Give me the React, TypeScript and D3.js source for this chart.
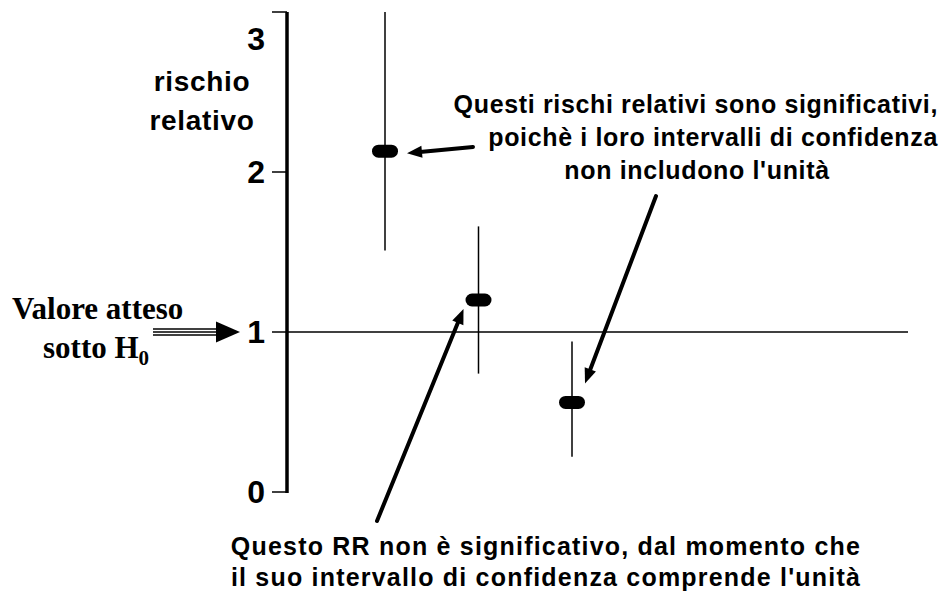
import React from 'react';
import * as d3 from 'd3';

// ---- data ----
const categories = ['A', 'B', 'C'];
const rr = [2.13, 1.2, 0.56];
const ciLow = [1.51, 0.74, 0.22];
const ciHigh = [3.0, 1.66, 0.94];
const nullValue = 1;
const yTicks = [0, 1, 2, 3];
const yLabelLines = ['rischio', 'relativo'];
const noteSigLines = [
  'Questi rischi relativi sono significativi,',
  'poichè i loro intervalli di confidenza',
  "non includono l'unità",
];
const noteNonSigLines = [
  'Questo RR non è significativo, dal momento che',
  "il suo intervallo di confidenza comprende l'unità",
];
const h0Line1 = 'Valore atteso';
const h0Line2 = 'sotto H';
const h0Sub = '0';

// ---- layout ----
const W = 948;
const H = 591;
const axisX = 287;
const refEnd = 908;
const SANS = "'Liberation Sans', Arial, Helvetica, sans-serif";
const SERIF = "'Liberation Serif', 'Times New Roman', serif";

function Arrow({ x1, y1, x2, y2, w = 4, headL = 15, headW = 12 }: any) {
  const dx = x2 - x1;
  const dy = y2 - y1;
  const len = Math.sqrt(dx * dx + dy * dy);
  const ux = dx / len;
  const uy = dy / len;
  const bx = x2 - ux * headL;
  const by = y2 - uy * headL;
  const px = -uy;
  const py = ux;
  const pts = [
    [x2, y2],
    [bx + px * headW / 2, by + py * headW / 2],
    [bx - px * headW / 2, by - py * headW / 2],
  ];
  return (
    <g>
      <line x1={x1} y1={y1} x2={bx + ux * 2} y2={by + uy * 2} stroke="#000" strokeWidth={w} strokeLinecap="round" />
      <polygon points={pts.map((p) => p.join(',')).join(' ')} fill="#000" />
    </g>
  );
}

export default function App() {
  const y = d3.scaleLinear().domain([0, 3]).range([492, 12]);
  const x = d3.scalePoint<string>().domain(categories).range([385, 572]);

  const y1 = y(nullValue);
  const pts = categories.map((c, i) => ({ cx: x(c) as number, cy: y(rr[i]), lo: y(ciLow[i]), hi: y(ciHigh[i]) }));

  return (
    <svg width={W} height={H} style={{ position: 'absolute', left: 0, top: 0, background: '#fff' }}>
      <rect width={W} height={H} fill="#fff" />
      {/* reference line at null value */}
      <line x1={axisX} x2={refEnd} y1={y1} y2={y1} stroke="#000" strokeWidth={1.5} />
      {/* axis */}
      <line x1={axisX} x2={axisX} y1={y(3)} y2={y(0) + 1} stroke="#000" strokeWidth={3.5} />
      {yTicks.map((t) => (
        <g key={t}>
          <line x1={axisX - 15} x2={axisX} y1={y(t)} y2={y(t)} stroke="#000" strokeWidth={1.5} />
          <text
            x={265}
            y={Math.max(y(t), y(3) + 27)}
            textAnchor="end"
            dominantBaseline="central"
            fontFamily={SANS}
            fontWeight="bold"
            fontSize={32}
          >
            {t}
          </text>
        </g>
      ))}
      {/* y label */}
      {yLabelLines.map((l, i) => (
        <text key={l} x={202} y={91 + i * 39} textAnchor="middle" fontFamily={SANS} fontWeight="bold" fontSize={28} letterSpacing={0.7}>
          {l}
        </text>
      ))}
      {/* CI and markers */}
      {pts.map((p, i) => (
        <g key={i}>
          <line x1={p.cx} x2={p.cx} y1={p.hi} y2={p.lo} stroke="#000" strokeWidth={1.5} />
          <rect x={p.cx - 13} y={p.cy - 6.5} width={26} height={13} rx={6.5} fill="#000" />
        </g>
      ))}
      {/* H0 label */}
      <text x={12} y={319} fontFamily={SERIF} fontWeight="bold" fontSize={31}>
        {h0Line1}
      </text>
      <text x={43} y={358} fontFamily={SERIF} fontWeight="bold" fontSize={31}>
        {h0Line2}
        <tspan fontSize={21} dy={7}>
          {h0Sub}
        </tspan>
      </text>
      {/* triple arrow */}
      {[-3, 0, 3].map((d) => (
        <line key={d} x1={153} x2={218} y1={y1 + d} y2={y1 + d} stroke="#000" strokeWidth={1.5} />
      ))}
      <polygon points={`240,${y1} 216,${y1 - 10.5} 216,${y1 + 10.5}`} fill="#000" />
      {/* annotation: significant */}
      <text x={938} y={113} textAnchor="end" fontFamily={SANS} fontWeight="bold" fontSize={25} letterSpacing={0.65}>
        {noteSigLines[0]}
      </text>
      <text x={938} y={146} textAnchor="end" fontFamily={SANS} fontWeight="bold" fontSize={25} letterSpacing={0.65}>
        {noteSigLines[1]}
      </text>
      <text x={697} y={179} textAnchor="middle" fontFamily={SANS} fontWeight="bold" fontSize={25} letterSpacing={0.65}>
        {noteSigLines[2]}
      </text>
      {/* annotation: non significant */}
      {noteNonSigLines.map((l, i) => (
        <text key={l} x={546} y={555 + i * 31} textAnchor="middle" fontFamily={SANS} fontWeight="bold" fontSize={25} letterSpacing={1.2}>
          {l}
        </text>
      ))}
      {/* arrows */}
      <Arrow x1={473} y1={147} x2={pts[0].cx + 22} y2={pts[0].cy + 2} />
      <Arrow x1={377} y1={521} x2={pts[1].cx - 15} y2={pts[1].cy + 9} />
      <Arrow x1={656} y1={196} x2={pts[2].cx + 13} y2={pts[2].cy - 19} />
    </svg>
  );
}
